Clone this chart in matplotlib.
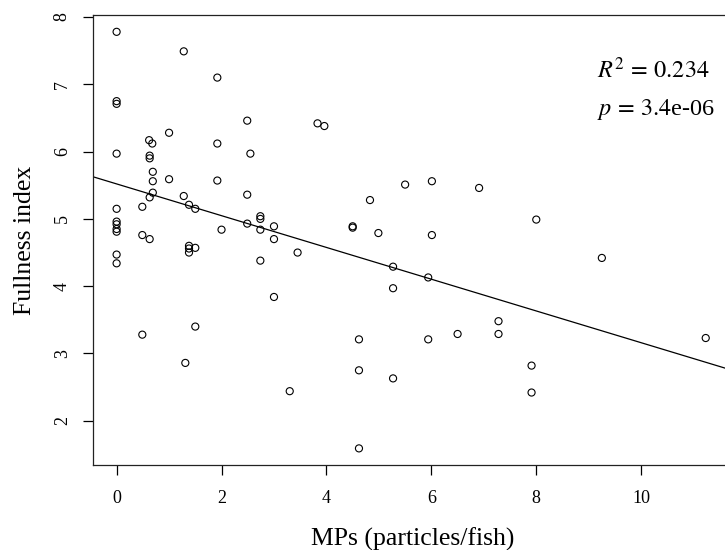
import numpy as np
import matplotlib
matplotlib.use("Agg")
from matplotlib import pyplot as plt

# MPs per fish (x) and fullness index (y)
mps = [0, 1.28, 1.92, 0, 0, 2.49, 3.83, 3.96, 0.62, 0.68,
       1.0, 0, 1.92, 2.55, 0.63, 0.63, 0.69, 0.69, 1.0, 1.92,
       0.69, 0.63, 2.49, 1.28, 0, 0.49, 1.38, 1.50, 0, 0,
       0, 0, 2.74, 2.74, 2.49, 3.0, 2.74, 2.0, 0.49, 0.63,
       3.0, 1.38, 1.38, 1.38, 1.50, 3.45, 0, 0, 2.74, 3.0,
       1.50, 0.49, 1.31, 3.30, 4.83, 5.50, 6.01, 6.91, 4.50, 4.50,
       4.99, 6.01, 8.0, 5.27, 5.94, 5.27, 9.25, 4.62, 5.94, 6.50,
       7.28, 7.28, 11.23, 4.62, 5.27, 7.91, 7.91, 4.62]
fullness = [7.78, 7.49, 7.10, 6.75, 6.71, 6.46, 6.42, 6.38, 6.17, 6.12,
            6.28, 5.97, 6.12, 5.97, 5.94, 5.90, 5.70, 5.56, 5.59, 5.57,
            5.39, 5.32, 5.36, 5.34, 5.15, 5.18, 5.21, 5.15, 4.96, 4.92,
            4.85, 4.81, 5.04, 5.00, 4.93, 4.89, 4.84, 4.84, 4.76, 4.70,
            4.70, 4.60, 4.56, 4.50, 4.57, 4.50, 4.47, 4.34, 4.38, 3.84,
            3.40, 3.28, 2.86, 2.44, 5.28, 5.51, 5.56, 5.46, 4.89, 4.87,
            4.79, 4.76, 4.99, 4.29, 4.13, 3.97, 4.42, 3.21, 3.21, 3.29,
            3.48, 3.29, 3.23, 2.75, 2.63, 2.82, 2.42, 1.59]

# fitted line
fit_intercept = 5.52
fit_slope = -0.236
r2_text = r"$R^2\,=\,0.234$"
p_text = r"$p\,=\,3.4$e-06"

x_ticks = [0, 2, 4, 6, 8, 10]
y_ticks = [2, 3, 4, 5, 6, 7, 8]

plt.rcParams['font.family'] = ['Liberation Serif', 'DejaVu Serif']
plt.rcParams['mathtext.fontset'] = 'stix'

fig = plt.figure(figsize=(7.25, 5.5), dpi=100)
ax = fig.add_axes([93/725, 85/550, 640/725, 450/550])

ax.scatter(mps, fullness, s=26, facecolors='none', edgecolors='black', linewidths=0.8, zorder=3)

xlim = (-0.45, 11.75)
ax.set_xlim(xlim)
ax.set_ylim(1.343, 8.03)
xs = np.array(xlim)
ax.plot(xs, fit_intercept + fit_slope * xs, color='black', linewidth=0.9)

ax.set_xticks(x_ticks)
ax.set_yticks(y_ticks)
ax.tick_params(direction='out', length=7, width=0.9, labelsize=13)
ax.tick_params(axis='x', pad=11)
ax.tick_params(axis='y', labelrotation=90, pad=9)
for lab in ax.get_yticklabels():
    lab.set_va('center')
for sp in ax.spines.values():
    sp.set_linewidth(0.9)
    sp.set_color('#222222')

ax.set_xlabel("MPs (particles/fish)", fontsize=18.5, labelpad=15)
ax.set_ylabel("Fullness index", fontsize=18.5, labelpad=13)

fig.text(597/725, 1 - 70/550, r2_text, fontsize=17.5, va='center', ha='left')
fig.text(597/725, 1 - 110/550, p_text, fontsize=17.5, va='center', ha='left')

fig.savefig("out.png", dpi=100)
